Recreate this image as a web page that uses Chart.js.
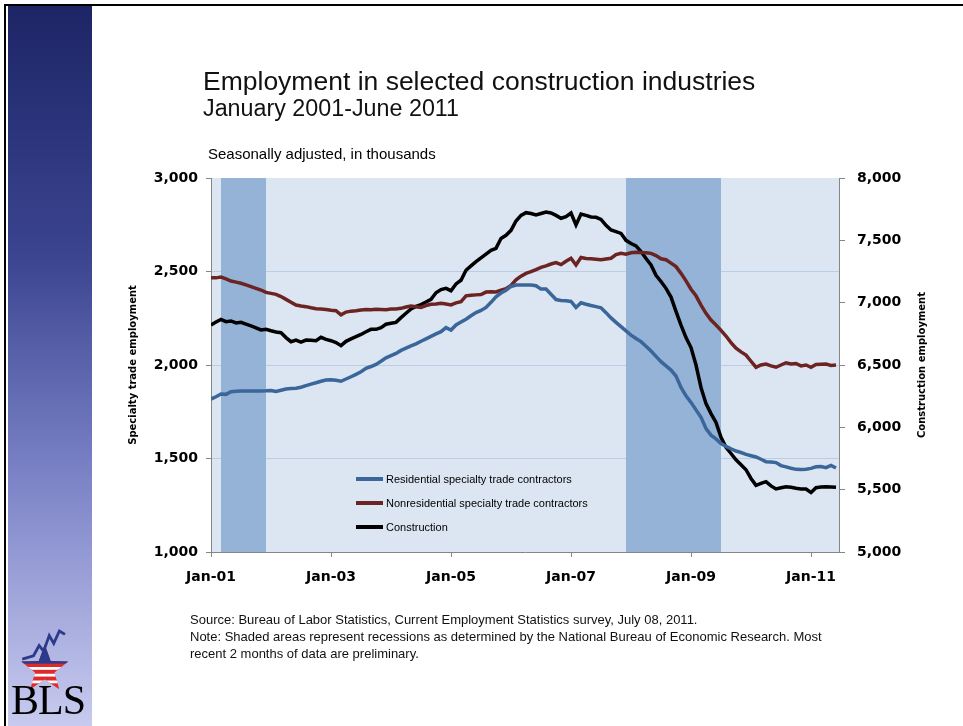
<!DOCTYPE html>
<html>
<head>
<meta charset="utf-8">
<title>Employment in selected construction industries</title>
<script src="https://cdn.jsdelivr.net/npm/chart.js@4.4.1/dist/chart.umd.min.js"></script>
<style>
body { margin: 0; background: #fff; }
#page { position: relative; width: 963px; height: 726px; overflow: hidden; font-family: "Liberation Sans", Arial, sans-serif; color: #000; }
#chart1 { position: absolute; left: 0; top: 0; }
.topline { position: absolute; left: 4px; top: 4px; width: 959px; height: 2px; background: #000; }
.leftline { position: absolute; left: 4px; top: 4px; width: 2px; height: 722px; background: #000; }
.sidebar { position: absolute; left: 8px; top: 6px; width: 84px; height: 720px; background: linear-gradient(to bottom, #1d2566 0%, #3b4590 35%, #7b82c6 65%, #c8cbef 100%); }
.title { position: absolute; left: 203px; top: 66px; font-size: 26.5px; white-space: nowrap; color: #111; }
.subtitle { position: absolute; left: 203px; top: 95px; font-size: 23.3px; white-space: nowrap; color: #111; }
.units { position: absolute; left: 208px; top: 145px; font-size: 15px; white-space: nowrap; }
.notes { position: absolute; left: 190px; top: 611px; font-size: 13px; line-height: 17px; white-space: nowrap; color: #111; }
.logo { position: absolute; left: 13px; top: 622px; }
.bls { position: absolute; left: 11px; top: 676px; font-family: "Liberation Serif", serif; font-size: 42px; letter-spacing: -1px; }
</style>
</head>
<body>
<div id="page">
  <div class="sidebar"></div>
  <div class="topline"></div>
  <div class="leftline"></div>
  <canvas id="chart1" width="963" height="726"></canvas>
  <div class="title">Employment in selected construction industries</div>
  <div class="subtitle">January 2001-June 2011</div>
  <div class="units">Seasonally adjusted, in thousands</div>
  <div class="notes">Source: Bureau of Labor Statistics, Current Employment Statistics survey, July 08, 2011.<br>Note: Shaded areas represent recessions as determined by the National Bureau of Economic Research. Most<br>recent 2 months of data are preliminary.</div>
  <svg class="logo" width="68" height="72" viewBox="0 0 60 64">
    <defs>
      <clipPath id="starClip">
        <polygon points="28,20 33.3,34.7 48.9,35.2 36.6,44.8 40.9,59.8 28,51 15.1,59.8 19.4,44.8 7.1,35.2 22.7,34.7"/>
      </clipPath>
    </defs>
    <g clip-path="url(#starClip)">
      <rect x="0" y="18" width="60" height="46" fill="#e02a2a"/>
      <rect x="0" y="18" width="60" height="19" fill="#2b3a8c"/>
      <rect x="0" y="40" width="60" height="2.5" fill="#fff"/>
      <rect x="0" y="46" width="60" height="2.5" fill="#fff"/>
      <rect x="0" y="52" width="60" height="2.5" fill="#fff"/>
    </g>
    <polyline points="8,33 18,30 23,21 27,26 32,12 36,19 41,8 46,11" fill="none" stroke="#2b3a8c" stroke-width="2.5"/>
  </svg>
  <div class="bls">BLS</div>
</div>
<script>
// tick labels and months (index 0 = Jan 2001)
const xTickValues = [0, 24, 48, 72, 96, 120];
const xTickLabels = ["Jan-01", "Jan-03", "Jan-05", "Jan-07", "Jan-09", "Jan-11"];
const leftTicks = [1000, 1500, 2000, 2500, 3000];
const rightTicks = [5000, 5500, 6000, 6500, 7000, 7500, 8000];
// recessions: [first month, month after last]
const recessions = [[2, 11], [83, 102]];

const residential = [
    1818, 1830, 1845, 1843, 1857, 1860, 1861, 1861, 1861, 1861, 1861, 1862,
    1864, 1858, 1865, 1872, 1874, 1876, 1881, 1890, 1898, 1905, 1913, 1920,
    1921, 1918, 1913, 1925, 1937, 1950, 1964, 1982, 1992, 2003, 2020, 2038,
    2050, 2062, 2078, 2090, 2102, 2113, 2127, 2140, 2153, 2166, 2178, 2200,
    2187, 2214, 2230, 2245, 2263, 2280, 2292, 2308, 2335, 2365, 2385, 2400,
    2420, 2428, 2428, 2428, 2428, 2424, 2406, 2406, 2378, 2350, 2345, 2343,
    2340, 2308, 2333, 2325, 2318, 2312, 2306, 2280, 2252, 2228, 2205, 2183,
    2160, 2142, 2125, 2100, 2075, 2046, 2018, 1995, 1973, 1941, 1880, 1835,
    1800, 1760, 1720, 1660, 1625, 1605, 1580, 1565, 1552, 1540, 1532, 1522,
    1515, 1508, 1496, 1483, 1481, 1478, 1462, 1455, 1448, 1442, 1441, 1443,
    1447, 1456, 1457, 1451, 1463, 1449
];
const nonresidential = [
    2467, 2466, 2470, 2460, 2449, 2443, 2437, 2428, 2419, 2410, 2401, 2388,
    2383, 2378, 2366, 2351, 2336, 2321, 2316, 2312, 2306, 2301, 2299, 2297,
    2293, 2290, 2268, 2283, 2288, 2290, 2294, 2297, 2295, 2298, 2297, 2296,
    2300, 2299, 2303, 2310, 2315, 2312, 2308, 2318, 2325, 2326, 2330, 2326,
    2321, 2332, 2339, 2370, 2373, 2375, 2377, 2390, 2392, 2391, 2400, 2408,
    2425, 2455, 2475, 2490, 2499, 2510, 2522, 2530, 2540, 2548, 2537, 2555,
    2571, 2535, 2575, 2570, 2568, 2566, 2563, 2567, 2571, 2590, 2597, 2593,
    2600, 2603, 2601, 2600, 2597, 2585, 2568, 2563, 2545, 2526, 2490, 2450,
    2405, 2370, 2320, 2276, 2240, 2214, 2185, 2155, 2120, 2090, 2070, 2053,
    2020, 1988, 2000, 2005, 1995, 1988, 2000, 2012, 2005, 2008, 1995, 2000,
    1988, 2003, 2004, 2005, 1998, 2000
];
const construction = [
    6821, 6845, 6866, 6848, 6853, 6837, 6842, 6828, 6813, 6798, 6781, 6786,
    6775, 6765, 6759, 6720, 6687, 6700, 6684, 6700, 6698, 6695, 6722, 6705,
    6695, 6680, 6655, 6690, 6710, 6727, 6745, 6767, 6786, 6786, 6800, 6827,
    6835, 6842, 6880, 6915, 6950, 6970, 6984, 7005, 7027, 7080, 7105, 7115,
    7096, 7150, 7180, 7260, 7295, 7329, 7360, 7390, 7420, 7436, 7515, 7540,
    7580, 7655, 7700, 7722, 7715, 7703, 7715, 7727, 7720, 7700, 7677, 7690,
    7719, 7623, 7711, 7700, 7687, 7685, 7668, 7620, 7583, 7570, 7556, 7500,
    7475, 7455, 7410, 7355, 7302, 7220, 7170, 7115, 7045, 6930, 6820, 6720,
    6640, 6500, 6320, 6190, 6110, 6040, 5920, 5840, 5790, 5740, 5700, 5660,
    5590, 5535, 5550, 5564, 5530, 5506, 5515, 5524, 5520, 5512, 5506, 5505,
    5478, 5516, 5522, 5524, 5522, 5519
];

function toPoints(values) {
    return values.map((v, i) => ({ x: i, y: v }));
}

function fmt(v) {
    return Number(v).toLocaleString("en-US");
}

// light blue plot area
const plotBackground = {
    id: "plotBackground",
    beforeDraw(chart) {
        const { ctx, chartArea } = chart;
        ctx.save();
        ctx.fillStyle = "#dce6f2";
        ctx.fillRect(chartArea.left, chartArea.top, chartArea.width, chartArea.height);
        ctx.restore();
    }
};

// recession bands
const recessionBands = {
    id: "recessionBands",
    beforeDatasetsDraw(chart) {
        const { ctx, chartArea } = chart;
        const x = chart.scales.x;
        ctx.save();
        ctx.fillStyle = "#95b3d7";
        recessions.forEach(r => {
            const x0 = x.getPixelForValue(r[0]);
            const x1 = x.getPixelForValue(r[1]);
            ctx.fillRect(x0, chartArea.top, x1 - x0, chartArea.height);
        });
        ctx.restore();
    }
};

// legend inside the plot + axis titles (both read upward)
const extras = {
    id: "extras",
    afterDatasetsDraw(chart) {
        const { ctx, chartArea } = chart;
        ctx.save();
        ctx.font = "11px 'Liberation Sans', Arial, sans-serif";
        ctx.textBaseline = "middle";
        chart.data.datasets.forEach((ds, i) => {
            const y = chartArea.top + 301 + i * 24;
            const x = chartArea.left + 145;
            ctx.strokeStyle = ds.borderColor;
            ctx.lineWidth = 4;
            ctx.beginPath();
            ctx.moveTo(x, y);
            ctx.lineTo(x + 27, y);
            ctx.stroke();
            ctx.fillStyle = "#000";
            ctx.fillText(ds.label, x + 30, y + 1);
        });
        ctx.restore();
    },
    afterDraw(chart) {
        const { ctx, chartArea } = chart;
        const midY = (chartArea.top + chartArea.bottom) / 2;
        ctx.save();
        ctx.font = "bold 10px 'DejaVu Sans', sans-serif";
        ctx.fillStyle = "#000";
        ctx.textAlign = "center";
        ctx.textBaseline = "middle";
        [[133, "Specialty trade employment"], [922, "Construction employment"]].forEach(t => {
            ctx.save();
            ctx.translate(t[0], midY);
            ctx.rotate(-Math.PI / 2);
            ctx.fillText(t[1], 0, 0);
            ctx.restore();
        });
        ctx.restore();
    }
};

const tickFont = { family: "'DejaVu Sans', sans-serif", weight: "bold", size: 14 };

new Chart(document.getElementById("chart1"), {
    type: "line",
    data: {
        datasets: [{
            label: "Residential specialty trade contractors",
            data: toPoints(residential),
            yAxisID: "yL",
            borderColor: "#3b6699",
            borderWidth: 3.5,
            pointRadius: 0
        }, {
            label: "Nonresidential specialty trade contractors",
            data: toPoints(nonresidential),
            yAxisID: "yL",
            borderColor: "#6b2422",
            borderWidth: 3.5,
            pointRadius: 0
        }, {
            label: "Construction",
            data: toPoints(construction),
            yAxisID: "yR",
            borderColor: "#000000",
            borderWidth: 3.5,
            pointRadius: 0
        }]
    },
    options: {
        responsive: false,
        animation: false,
        layout: { padding: { left: 120, right: 34, top: 178, bottom: 134 } },
        plugins: {
            legend: { display: false },
            tooltip: { enabled: false }
        },
        scales: {
            x: {
                type: "linear",
                min: 0,
                max: 125.6,
                afterBuildTicks: s => { s.ticks = xTickValues.map(v => ({ value: v })); },
                afterFit: s => { s.height = 40; },
                grid: { drawOnChartArea: false, tickLength: 5, tickColor: "#868686" },
                border: { color: "#868686" },
                ticks: {
                    autoSkip: false,
                    maxRotation: 0,
                    padding: 12,
                    color: "#000",
                    font: tickFont,
                    callback: v => xTickLabels[xTickValues.indexOf(v)]
                }
            },
            yL: {
                position: "left",
                min: 1000,
                max: 3000,
                afterBuildTicks: s => { s.ticks = leftTicks.map(v => ({ value: v })); },
                afterFit: s => { s.width = 91; },
                grid: {
                    color: c => (c.tick && (c.tick.value === 1000 || c.tick.value === 3000)) ? "rgba(0,0,0,0)" : "#b9cde5",
                    tickColor: "#868686",
                    tickLength: 5
                },
                border: { color: "#868686" },
                ticks: { padding: 8, color: "#000", font: tickFont, callback: v => fmt(v) }
            },
            yR: {
                position: "right",
                min: 5000,
                max: 8000,
                afterBuildTicks: s => { s.ticks = rightTicks.map(v => ({ value: v })); },
                afterFit: s => { s.width = 90; },
                grid: { drawOnChartArea: false, tickColor: "#868686", tickLength: 6 },
                border: { color: "#868686" },
                ticks: { padding: 12, color: "#000", font: tickFont, callback: v => fmt(v) }
            }
        }
    },
    plugins: [plotBackground, recessionBands, extras]
});
</script>
</body>
</html>
